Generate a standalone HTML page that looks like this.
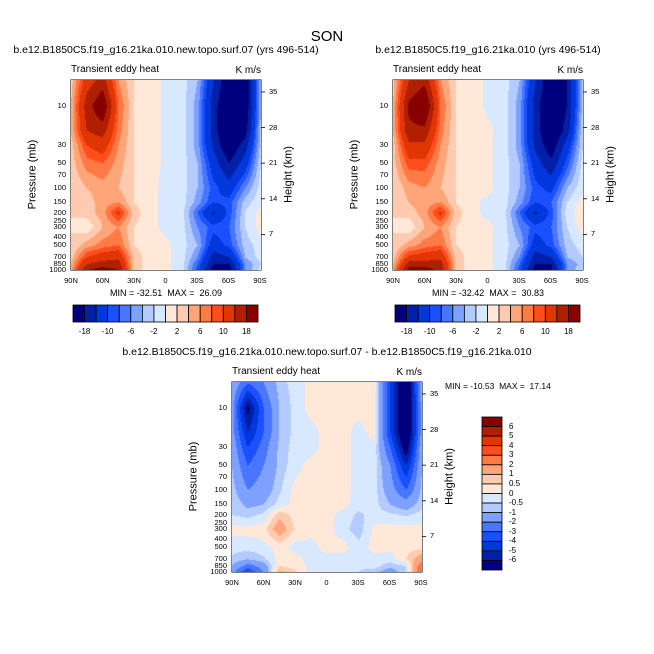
<!DOCTYPE html>
<html><head><meta charset="utf-8">
<style>
html,body{margin:0;padding:0;background:#fff;}
#root{position:relative;width:654px;height:654px;overflow:hidden;font-family:"Liberation Sans",Arial,sans-serif;color:#000;}
.t{position:absolute;white-space:pre;line-height:1;}
canvas{position:absolute;}
svg{position:absolute;left:0;top:0;}
</style></head>
<body>
<div id="root">
<div class="t" style="left:0;width:654px;text-align:center;top:29px;font-size:15px;">SON</div>
</div>
<script>
// ---- data ----
const lats = [90,75,60,45,30,15,0,-15,-30,-45,-60,-75,-90];
const plevs = [5,10,20,30,50,100,150,200,300,500,700,850,1000];
const levelsAbs = [-18,-14,-10,-8,-6,-4,-2,0,2,4,6,8,10,14,18];
const levelsDiff = [-6,-5,-4,-3,-2,-1,-0.5,0,0.5,1,2,3,4,5,6];
const absTickLabels = ["-18","-10","-6","-2","2","6","10","18"];
const diffTickLabels = ["6","5","4","3","2","1","0.5","0","-0.5","-1","-2","-3","-4","-5","-6"];
const pTicks = [10,30,50,70,100,150,200,250,300,400,500,700,850,1000];
const zTicks = [7,14,21,28,35];
const latTickLabels = ["90N","60N","30N","0","30S","60S","90S"];
const latTicks = [90,60,30,0,-30,-60,-90];
const fieldA = [
 [3,12,16,6,2,1,-0.5,-1,-4,-14,-22,-22,-4],
 [4,16,22,8,2,1,-0.5,-1,-5,-16,-24,-22,-4],
 [4,14,16,7,2,1,-0.5,-1,-5,-16,-24,-20,-3],
 [3,10,12,6,2,1,-0.5,-1,-5,-15,-22,-16,-3],
 [3,7,8,5,2,1,-0.5,-1,-4,-12,-18,-12,-2],
 [2,4,5,4,2,0.5,-0.5,-1,-4,-9,-12,-6,-1],
 [2,3,5,6,2,0.5,-0.5,-1,-5,-10,-9,-3,-0.5],
 [2,3,5,11,3,0.5,-0.5,-1,-8,-15,-9,-2,1],
 [2,0.5,4,6,2,0.5,-0.5,-1,-6,-9,-8,-2,1],
 [2,5,7,8,2,1,0.5,-1,-4,-12,-9,-3,-1],
 [3,10,12,13,3,1,0.5,-1,-6,-16,-14,-4,-1],
 [4,14,16,16,3,1,0.5,-1,-8,-18,-18,-6,-2],
 [5,18,20,18,3,1,0.5,-1,-9,-20,-20,-6,-1]
];
const fieldB = [
 [3,14,17,6,2,1,-0.5,-1,-4,-14,-22,-18,-3],
 [4,19,23,8,2,1,-0.5,-1,-5,-16,-24,-18,-3],
 [4,17,17,7,2,1,0.5,-1,-5,-16,-23,-16,-2],
 [3,13,13,6,2,1,0.5,-1,-5,-15,-21,-12,-2],
 [3,9,9,5,2,1,0.5,-1,-4,-12,-17,-9,-1],
 [2,5,6,4,2,0.5,0.5,-1,-4,-9,-11,-4,-0.5],
 [2,4,5,6,2,0.5,-0.5,-1,-5,-10,-8,-2,1],
 [2,3,5,11,3,0.5,-0.5,-1,-8,-15,-9,-1,1.5],
 [2,0.5,4,6,2,0.5,0.5,-1,-6,-9,-8,-2,1],
 [2,5,7,8,2,1,0.5,-1,-4,-12,-9,-3,-1],
 [3,11,12,13,3,1,0.5,-1,-6,-16,-14,-4,-2],
 [4,16,16,16,3,1,0.5,-1,-8,-18,-18,-6,-3],
 [5,20,20,17,3,1,0.5,-1,-9,-20,-19,-6,-2]
];
const fieldDiff = [
 [-1,-3,-2,-0.7,-0.3,0.2,0.2,0.2,0.3,0.3,-4,-8,-1],
 [-1.5,-6.5,-3,-1,-0.3,0.2,0.2,0.2,0.2,0.2,-4,-8,-1.5],
 [-1.5,-5,-3,-1,-0.3,-0.2,0.2,0.2,-0.2,0.2,-4,-8,-1.5],
 [-1.2,-4,-2.5,-0.8,-0.3,-0.2,0.2,0.2,-0.2,-0.2,-3,-7,-1],
 [-1,-3,-2,-0.8,-0.2,0.2,0.2,0.2,-0.2,-0.2,-2,-5,-1],
 [-0.7,-2,-1.5,-0.6,0.2,0.2,0.2,0.2,-0.2,-0.3,-1.5,-3,-0.8],
 [-0.5,-1.2,-1,-0.3,0.2,0.2,0.2,0.2,-0.3,-0.3,-1,-1.5,-0.6],
 [-0.5,-0.7,-0.4,0.8,0.3,0.2,0.2,-0.2,-0.6,-0.3,-0.4,-0.6,-0.3],
 [0.2,0.2,0.3,1.5,0.4,0.2,0.2,-0.3,-0.8,0.2,0.2,0.2,0.2],
 [-0.3,-0.3,-0.2,0.2,-0.2,-0.2,0.2,0.2,-0.3,0.2,0.2,0.3,0.3],
 [-0.6,-1,-0.6,0.2,0.2,-0.2,-0.2,-0.2,-0.3,-0.2,-0.3,0.5,1.5],
 [-1,-2.5,-1.5,0.5,0.3,-0.2,-0.2,-0.3,-0.4,-0.3,-0.8,-0.5,3],
 [-1.5,-4,-2,1.2,0.6,-0.2,-0.2,-0.3,-0.5,-0.8,-1.5,-0.5,3]
];
const colors = ["#00007f","#0020a8","#0038dc","#1a50ff","#4876ff","#7ea0ff","#b4cbff","#d8e9ff",
"#ffe8d8","#ffcbb0","#ffa57a","#ff7a45","#ff4d1d","#e03505","#b02000","#880000"];

// ---- rendering ----
const root = document.getElementById('root');
const W = 190, H = 190, DEC = 82;
function hex(c){return [parseInt(c.slice(1,3),16),parseInt(c.slice(3,5),16),parseInt(c.slice(5,7),16)];}
const rgb = colors.map(hex);
function lvlIndex(v, levels){let i=0;while(i<levels.length&&v>=levels[i])i++;return i;}
function yOfP(p){return H - DEC*Math.log10(1000/p);}
function xOfLat(lat){return (90-lat)/180*(W-1);}
function sample(field, lat, p){
  let fi = (90-lat)/15; fi=Math.max(0,Math.min(lats.length-1.0001,fi));
  const i0=Math.floor(fi), tx=fi-i0;
  const lp=Math.log(Math.max(plevs[0],Math.min(1000,p)));
  let j0=0; while(j0<plevs.length-2 && Math.log(plevs[j0+1])<lp) j0++;
  let ty=(lp-Math.log(plevs[j0]))/(Math.log(plevs[j0+1])-Math.log(plevs[j0])); ty=Math.max(0,Math.min(1,ty));
  const a=field[j0][i0],b=field[j0][i0+1],c=field[j0+1][i0],d=field[j0+1][i0+1];
  return (a*(1-tx)+b*tx)*(1-ty)+(c*(1-tx)+d*tx)*ty;
}
function txt(s,x,y,size,name,align,extra,cw){
  const d=document.createElement('div');d.className='t';d.textContent=s;
  
  
  const w=cw||300;
  let st='top:'+y+'px;font-size:'+size+'px;';
  if(align==='c') st+='left:'+(x-w/2)+'px;width:'+w+'px;text-align:center;';
  else if(align==='r') st+='left:'+(x-100)+'px;width:100px;text-align:right;';
  else st+='left:'+x+'px;';
  d.setAttribute('style',st+(extra||''));root.appendChild(d);return d;
}
const svg=document.createElementNS('http://www.w3.org/2000/svg','svg');
svg.setAttribute('width','654');svg.setAttribute('height','654');
root.appendChild(svg);
function sv(tag,attrs,name){const e=document.createElementNS('http://www.w3.org/2000/svg',tag);for(const k in attrs)e.setAttribute(k,attrs[k]);
 
 
 svg.appendChild(e);return e;}

function panel(px,py,field,levels,title,titleX,minmax,prefix){
  const cv=document.createElement('canvas');cv.width=W;cv.height=H;
  cv.setAttribute('style','left:'+px+'px;top:'+py+'px;');
  
  
  root.appendChild(cv);
  const ctx=cv.getContext('2d');const img=ctx.createImageData(W,H);
  for(let y=0;y<H;y++){const p=1000/Math.pow(10,(H-y-0.5)/DEC);
    for(let x=0;x<W;x++){const lat=90-180*(x+0.5)/W;const v=sample(field,lat,p);
      const c=rgb[lvlIndex(v,levels)];const k=(y*W+x)*4;img.data[k]=c[0];img.data[k+1]=c[1];img.data[k+2]=c[2];img.data[k+3]=255;}}
  ctx.putImageData(img,0,0);
  sv('rect',{x:px,y:py,width:W,height:H,fill:'none',stroke:'#000','stroke-width':1},prefix+'-plot-border');
  pTicks.forEach(p=>{const y=py+yOfP(p);
    sv('line',{x1:px,x2:px+4,y1:y,y2:y,stroke:'#000','stroke-width':0.8},prefix+'-pressure-tick');
    txt(String(p),px-5,y-4,7.5,prefix+'-pressure-tick-label','r');});
  zTicks.forEach(z=>{const p=1000*Math.exp(-z/7);const y=py+yOfP(p);
    sv('line',{x1:px+W,x2:px+W+4,y1:y,y2:y,stroke:'#000','stroke-width':0.8},prefix+'-height-tick');
    txt(String(z),px+W+8,y-4,7.5,prefix+'-height-tick-label');});
  latTicks.forEach((l,i)=>{const x=px+xOfLat(l);
    sv('line',{x1:x,x2:x,y1:py+H,y2:py+H-4,stroke:'#000','stroke-width':0.8},prefix+'-lat-tick');
    sv('line',{x1:x,x2:x,y1:py,y2:py+4,stroke:'#000','stroke-width':0.8},prefix+'-lat-tick-top');
    txt(latTickLabels[i],x,py+H+7,7.5,prefix+'-lat-tick-label','c',null,40);});
  txt(title,titleX,py-35,10.5,prefix+'-title','c',null,640);
  txt('Transient eddy heat',px,py-15,10,prefix+'-left-string');
  txt('K m/s',px+W,py-14,10,prefix+'-units','r');
  txt('Pressure (mb)',px-38,py+H/2-6,11,prefix+'-y-axis-title','c','transform:rotate(-90deg);',120);
  txt('Height (km)',px+W+28,py+H/2-6,11,prefix+'-right-axis-title','c','transform:rotate(-90deg);',120);
  if(minmax) txt(minmax,px+W/2,py+H+19,9,prefix+'-min-max','c');
}
function hbar(x,y,w,h,labels,prefix){
  const n=colors.length,bw=w/n;
  colors.forEach((c,i)=>sv('rect',{x:x+i*bw,y:y,width:bw,height:h,fill:c,stroke:'#000','stroke-width':0.8},prefix+'-colorbar-box'));
  labels.forEach((s,i)=>{const k=[0,2,4,6,8,10,12,14][i];txt(s,x+(k+1)*bw,y+h+6,8,prefix+'-colorbar-label','c',null,40);});
}
panel(71,80,fieldA,levelsAbs,'b.e12.B1850C5.f19_g16.21ka.010.new.topo.surf.07 (yrs 496-514)',166,'MIN = -32.51  MAX =  26.09','left-panel');
panel(393,80,fieldB,levelsAbs,'b.e12.B1850C5.f19_g16.21ka.010 (yrs 496-514)',488,'MIN = -32.42  MAX =  30.83','right-panel');
panel(232,382,fieldDiff,levelsDiff,'b.e12.B1850C5.f19_g16.21ka.010.new.topo.surf.07 - b.e12.B1850C5.f19_g16.21ka.010',327,null,'diff-panel');
hbar(73,305,185,17,absTickLabels,'left');
hbar(395,305,185,17,absTickLabels,'right');
(function(){const x=482,y=417,w=20,h=153,n=colors.length,bh=h/n;
  for(let i=0;i<n;i++){sv('rect',{x:x,y:y+i*bh,width:w,height:bh,fill:colors[n-1-i],stroke:'#000','stroke-width':0.8},'diff-colorbar-box');}
  diffTickLabels.forEach((s,i)=>txt(s,x+w+7,y+(i+1)*bh-4,8,'diff-colorbar-label'));
})();
txt('MIN = -10.53  MAX =  17.14',445,382,8.5,'diff-min-max');
</script>
</body></html>
